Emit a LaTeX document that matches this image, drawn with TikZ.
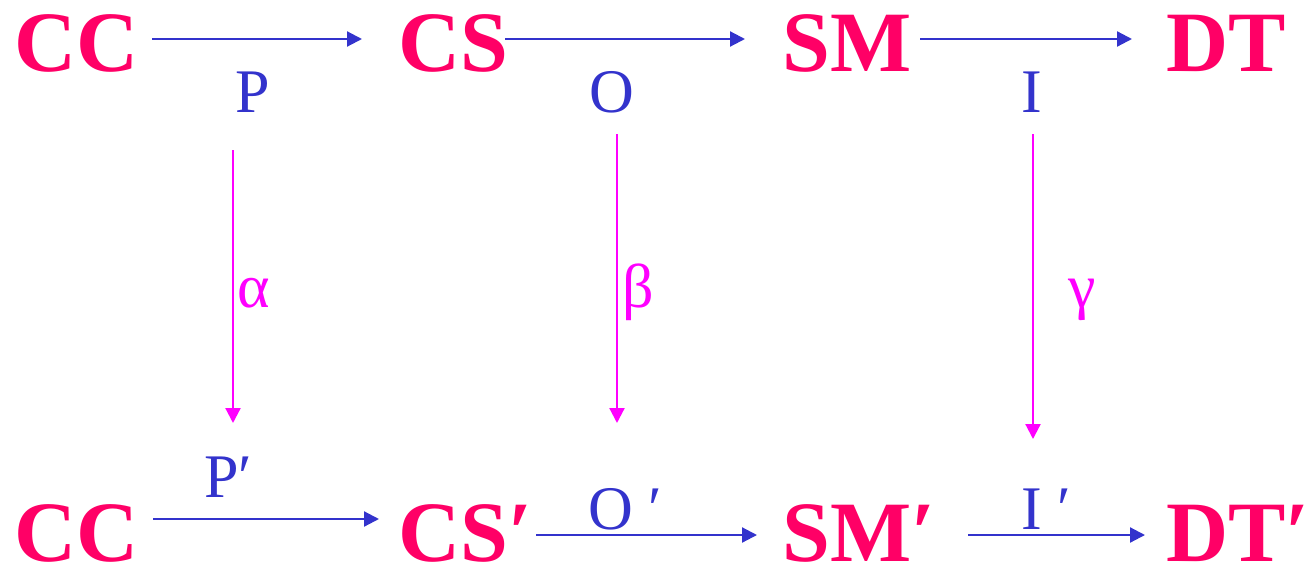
\documentclass[tikz,border=0pt]{standalone}
\usepackage{fontspec}
\setmainfont{Liberation Serif}
\usetikzlibrary{arrows.meta}
\definecolor{pinkred}{RGB}{255,0,102}
\definecolor{lblue}{RGB}{51,51,204}
\definecolor{mag}{RGB}{255,0,255}
\tikzset{
  big/.style={anchor=base west,inner sep=0pt,text=pinkred,font=\fontsize{86}{90}\selectfont\bfseries},
  lbl/.style={anchor=base west,inner sep=0pt,text=lblue,font=\fontsize{62}{64}\selectfont},
  glbl/.style={anchor=base west,inner sep=0pt,text=mag,font=\fontsize{62}{64}\selectfont},
  barrow/.style={draw=lblue,line width=2.2pt,-{Triangle[length=15pt,width=15pt]},fill=lblue},
  marrow/.style={draw=mag,line width=2.2pt,-{Triangle[length=15pt,width=15pt]},fill=mag}
}
\begin{document}
\begin{tikzpicture}[x=1pt,y=-1pt]
\useasboundingbox (0,0) rectangle (1312,570);
% top row
\node[big] (cc1) at (14,71) {CC};
\node[big] (cs1) at (398,71) {CS};
\node[big] (sm1) at (782,71) {SM};
\node[big] (dt1) at (1166,71) {DT};
% bottom row
\node[big] (cc2) at (14,561) {CC};
\node[big] (cs2) at (398,561) {CS′};
\node[big] (sm2) at (782,561) {SM′};
\node[big] (dt2) at (1166,561) {DT′};
% labels
\node[lbl,anchor=base] (p) at (253,112) {P};
\node[lbl,anchor=base] (o) at (612,112) {O};
\node[lbl,anchor=base] (i) at (1032,112) {I};
\node[lbl] (pp) at (204,497) {P′};
\node[lbl] (op) at (588,529) {O ′};
\node[lbl] (ip) at (1021,529) {I ′};
\node[glbl] (al) at (237,307) {α};
\node[glbl] (be) at (622,307) {β};
\node[glbl] (ga) at (1068,307) {γ};
% connector endpoints
\coordinate (t1s) at (152,39); \coordinate (t1e) at (362,39);
\coordinate (t2s) at (505,39); \coordinate (t2e) at (745,39);
\coordinate (t3s) at (920,39); \coordinate (t3e) at (1132,39);
\coordinate (b1s) at (153,519); \coordinate (b1e) at (379,519);
\coordinate (b2s) at (536,535); \coordinate (b2e) at (757,535);
\coordinate (b3s) at (968,535); \coordinate (b3e) at (1145,535);
\coordinate (v1s) at (233,150); \coordinate (v1e) at (233,423);
\coordinate (v2s) at (617,134); \coordinate (v2e) at (617,423);
\coordinate (v3s) at (1033,134); \coordinate (v3e) at (1033,439);
\draw[barrow] (t1s) -- (t1e);
\draw[barrow] (t2s) -- (t2e);
\draw[barrow] (t3s) -- (t3e);
\draw[barrow] (b1s) -- (b1e);
\draw[barrow] (b2s) -- (b2e);
\draw[barrow] (b3s) -- (b3e);
\draw[marrow] (v1s) -- (v1e);
\draw[marrow] (v2s) -- (v2e);
\draw[marrow] (v3s) -- (v3e);
\end{tikzpicture}
\end{document}
